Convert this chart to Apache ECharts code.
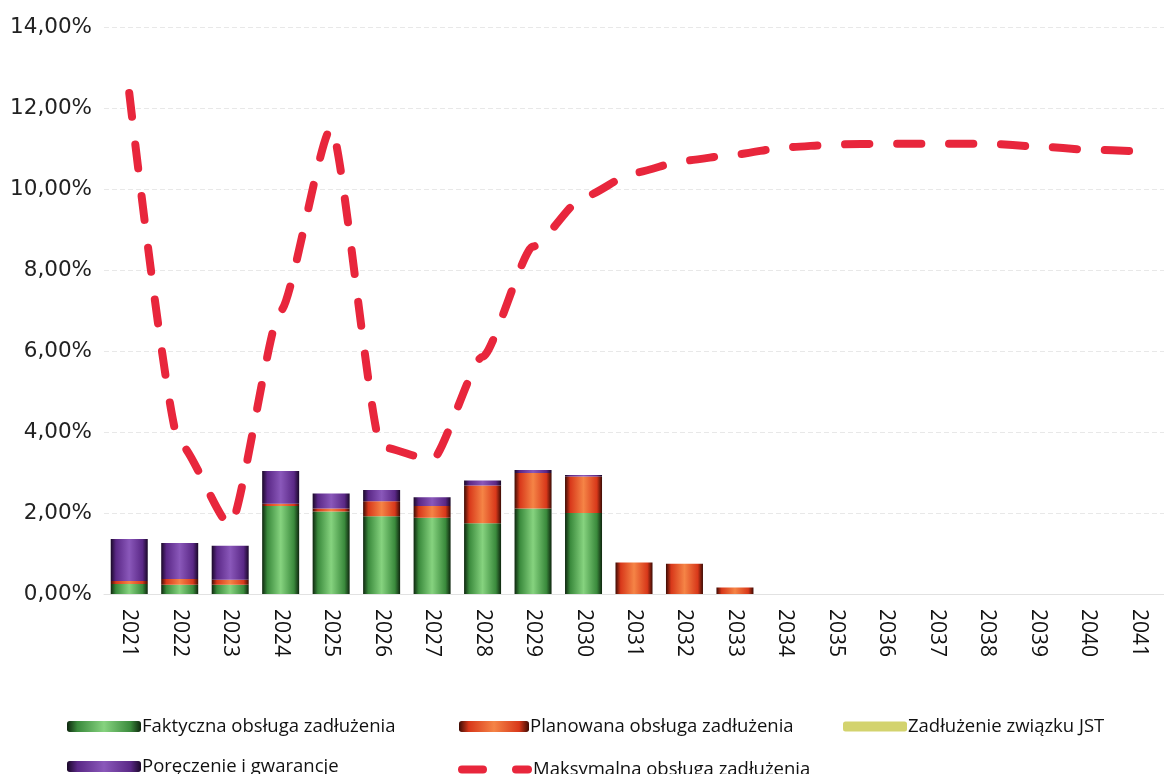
<!DOCTYPE html>
<html>
<head>
<meta charset="utf-8">
<script src="https://cdn.jsdelivr.net/npm/echarts@6/dist/echarts.min.js"></script>
<style>
  html, body { margin: 0; padding: 0; background: #fff; }
  #chart { width: 1164px; height: 774px; }
</style>
</head>
<body>
<div id="chart"></div>
<script>
// lata
var years = ['2021','2022','2023','2024','2025','2026','2027','2028','2029','2030',
  '2031','2032','2033','2034','2035','2036','2037','2038','2039','2040','2041'];
// wartości w %
var faktyczna = [0.25, 0.23, 0.23, 2.17, 2.04, 1.92, 1.88, 1.75, 2.11, 2.00, 0, 0, 0, 0, 0, 0, 0, 0, 0, 0, 0];
var planowana = [0.07, 0.14, 0.12, 0.06, 0.07, 0.37, 0.29, 0.93, 0.88, 0.90, 0.78, 0.75, 0.16, 0, 0, 0, 0, 0, 0, 0, 0];
var zwiazekJST = [0, 0, 0, 0, 0, 0, 0, 0, 0, 0, 0, 0, 0, 0, 0, 0, 0, 0, 0, 0, 0];
var poreczenia = [1.04, 0.89, 0.84, 0.81, 0.37, 0.28, 0.22, 0.12, 0.07, 0.04, 0, 0, 0, 0, 0, 0, 0, 0, 0, 0, 0];
var maksymalna = [12.37, 3.72, 1.70, 7.00, 11.50, 3.63, 3.31, 5.86, 8.58, 9.80, 10.40, 10.70, 10.85, 11.03,
  11.10, 11.12, 11.12, 11.12, 11.05, 10.97, 10.93];

var FONT = '"Open Sans", sans-serif';
var RED = '#e8263c';

function grad(dark, mid, light) {
  return new echarts.graphic.LinearGradient(0, 0, 1, 0, [
    {offset: 0, color: dark},
    {offset: 0.14, color: mid},
    {offset: 0.5, color: light},
    {offset: 0.86, color: mid},
    {offset: 1, color: dark}
  ]);
}

var chart = echarts.init(document.getElementById('chart'));

function legendAt(item, left, top, w, h) {
  return {
    data: [item],
    left: left, top: top,
    itemWidth: w, itemHeight: h || 11, itemGap: 0,
    textStyle: {fontFamily: FONT, fontSize: 18.5, color: '#111', padding: [0, 0, 0, -4]},
    selectedMode: false
  };
}

var option = {
  animation: false,
  grid: {left: 104, right: -13, top: 27, bottom: 180},
  legend: [
    legendAt('Faktyczna obsługa zadłużenia', 62, 712, 74),
    legendAt('Planowana obsługa zadłużenia', 454, 712, 70),
    legendAt('Zadłużenie związku JST', 838, 712, 64, 10),
    legendAt('Poręczenie i gwarancje', 62, 752, 74),
    legendAt({
      name: 'Maksymalna obsługa zadłużenia',
      icon: 'path://M4,0h21a4,4 0 0 1 0,8h-21a4,4 0 0 1 0,-8z M58,0h12a4,4 0 0 1 0,8h-12a4,4 0 0 1 0,-8z',
      itemStyle: {color: RED}
    }, 453, 755, 74, 8)
  ],
  xAxis: {
    type: 'category',
    data: years,
    axisLine: {lineStyle: {color: '#e2e2e2'}},
    axisTick: {show: false},
    axisLabel: {
      rotate: -90,
      fontFamily: FONT,
      fontSize: 21,
      color: '#111',
      margin: 15
    }
  },
  yAxis: {
    type: 'value',
    min: 0, max: 14, interval: 2,
    axisLine: {show: false},
    axisTick: {show: false},
    splitLine: {lineStyle: {color: '#e8e8e8', type: [5, 3]}},
    axisLabel: {
      fontFamily: '"DejaVu Sans", sans-serif',
      fontSize: 21.5,
      color: '#222',
      margin: 12,
      formatter: function (v) { return v.toFixed(2).replace('.', ',') + '%'; }
    }
  },
  series: [
    {
      name: 'Faktyczna obsługa zadłużenia',
      type: 'bar', stack: 'obs',
      barWidth: 37,
      data: faktyczna,
      itemStyle: {color: grad('#0e260e', '#3a8a3c', '#86d37f')}
    },
    {
      name: 'Planowana obsługa zadłużenia',
      type: 'bar', stack: 'obs',
      data: planowana,
      itemStyle: {color: grad('#3d0b04', '#d8381a', '#f58446')}
    },
    {
      name: 'Zadłużenie związku JST',
      type: 'bar', stack: 'obs',
      data: zwiazekJST,
      itemStyle: {color: '#d3d36e'}
    },
    {
      name: 'Poręczenie i gwarancje',
      type: 'bar', stack: 'obs',
      data: poreczenia,
      itemStyle: {color: grad('#1a0828', '#5a2886', '#8a58ba')}
    },
    {
      name: 'Maksymalna obsługa zadłużenia',
      type: 'line',
      data: maksymalna,
      smooth: 0.2,
      smoothMonotone: 'x',
      symbol: 'none',
      z: 5,
      lineStyle: {color: RED, width: 8, type: [24, 28], cap: 'round'},
      itemStyle: {color: RED}
    }
  ]
};

chart.setOption(option);
</script>
</body>
</html>
